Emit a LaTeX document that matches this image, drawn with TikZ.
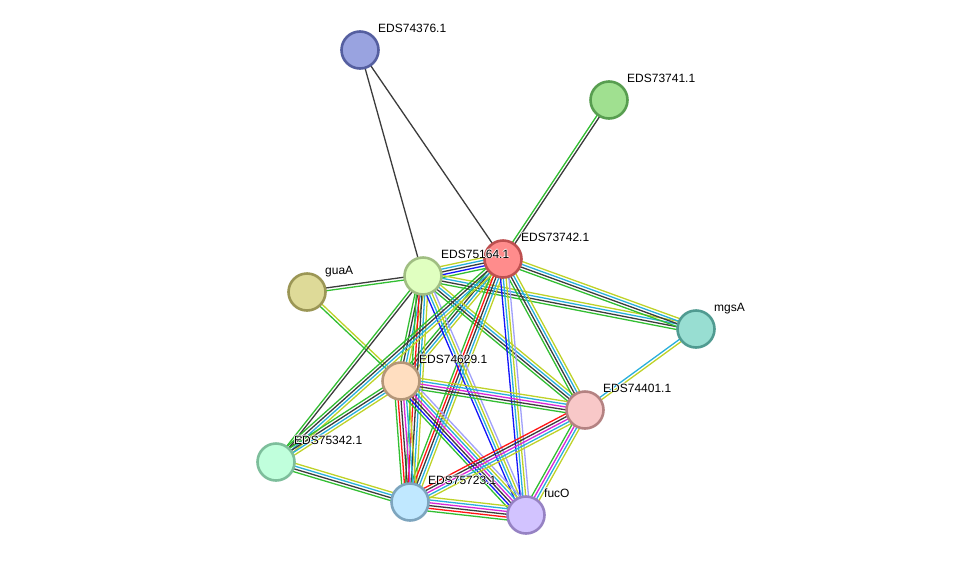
\documentclass[tikz,border=0pt]{standalone}
\usepackage{fontspec}
\setmainfont{Liberation Sans}
\usetikzlibrary{calc}
\usetikzlibrary{backgrounds}

% evidence colours
\definecolor{evgreen}{RGB}{50,190,50}
\definecolor{evred}{RGB}{255,20,20}
\definecolor{evblue}{RGB}{20,20,250}
\definecolor{evblack}{RGB}{60,60,60}
\definecolor{evmagenta}{RGB}{215,40,215}
\definecolor{evcyan}{RGB}{40,175,220}
\definecolor{evyellow}{RGB}{190,210,40}
\definecolor{evlavender}{RGB}{160,160,250}

\newcommand{\strlink}[3]{%
  \foreach \lc [count=\li] in {#3} {\xdef\linkn{\li}}%
  \foreach \lc [count=\li] in {#3} {%
    \pgfmathsetmacro\lo{(\li-(\linkn+1)/2)*2.8}%
    \draw[link,\lc] ($(#1)!\lo pt!90:(#2)$) -- ($(#2)!\lo pt!-90:(#1)$);
  }%
}
% white halo behind label text
\newcommand{\halotext}[1]{\leavevmode
  \rlap{\color{white}\kern0.9pt#1}%
  \rlap{\color{white}\kern-0.9pt#1}%
  \rlap{\color{white}\raisebox{0.9pt}{#1}}%
  \rlap{\color{white}\raisebox{-0.9pt}{#1}}%
  #1}

\begin{document}
\begin{tikzpicture}[x=1pt,y=-1pt,font=\fontsize{12}{14}\selectfont]
						\tikzstyle{prot} = [circle, minimum size=37pt, inner sep=0pt, line width=2.6pt]
						\tikzstyle{link} = [line width=1.3pt]
						\tikzstyle{lab} = [anchor=base west, inner sep=0pt]
						\useasboundingbox (0,0) rectangle (976,560);
						\node [prot,fill={rgb,255:red,153;green,163;blue,224},draw={rgb,255:red,85;green,95;blue,160}](p74376) at (360,50){};
						\node [prot,fill={rgb,255:red,160;green,224;blue,144},draw={rgb,255:red,88;green,158;blue,80}](p73741) at (609,100){};
						\node [prot,fill={rgb,255:red,255;green,140;blue,140},draw={rgb,255:red,190;green,80;blue,80}](p73742) at (503,259){};
						\node [prot,fill={rgb,255:red,224;green,255;blue,192},draw={rgb,255:red,160;green,190;blue,130}](p75164) at (423,276){};
						\node [prot,fill={rgb,255:red,222;green,218;blue,152},draw={rgb,255:red,155;green,150;blue,85}](guaA) at (307,292){};
						\node [prot,fill={rgb,255:red,152;green,222;blue,210},draw={rgb,255:red,80;green,155;blue,145}](mgsA) at (696,329){};
						\node [prot,fill={rgb,255:red,255;green,222;blue,192},draw={rgb,255:red,180;green,150;blue,120}](p74629) at (401,381){};
						\node [prot,fill={rgb,255:red,248;green,200;blue,200},draw={rgb,255:red,180;green,130;blue,130}](p74401) at (585,410){};
						\node [prot,fill={rgb,255:red,192;green,255;blue,220},draw={rgb,255:red,125;green,190;blue,155}](p75342) at (276,462){};
						\node [prot,fill={rgb,255:red,192;green,232;blue,255},draw={rgb,255:red,125;green,165;blue,190}](p75723) at (410,502){};
						\node [prot,fill={rgb,255:red,210;green,195;blue,255},draw={rgb,255:red,150;green,130;blue,195}](fucO) at (526,515){};
						\node [lab](l74376) at ($(p74376)+(18,-18)$){\halotext{EDS74376.1}};
						\node [lab](l73741) at ($(p73741)+(18,-18)$){\halotext{EDS73741.1}};
						\node [lab](l73742) at ($(p73742)+(18,-18)$){\halotext{EDS73742.1}};
						\node [lab](l75164) at ($(p75164)+(18,-18)$){\halotext{EDS75164.1}};
						\node [lab](lguaA) at ($(guaA)+(18,-18)$){\halotext{guaA}};
						\node [lab](lmgsA) at ($(mgsA)+(18,-18)$){\halotext{mgsA}};
						\node [lab](l74629) at ($(p74629)+(18,-18)$){\halotext{EDS74629.1}};
						\node [lab](l74401) at ($(p74401)+(18,-18)$){\halotext{EDS74401.1}};
						\node [lab](l75342) at ($(p75342)+(18,-18)$){\halotext{EDS75342.1}};
						\node [lab](l75723) at ($(p75723)+(18,-18)$){\halotext{EDS75723.1}};
						\node [lab](lfucO) at ($(fucO)+(18,-18)$){\halotext{fucO}};
						\begin{pgfonlayer}{background}
						\strlink{p74376}{p75164}{evblack}
						\strlink{p74376}{p73742}{evblack}
						\strlink{p73741}{p73742}{evgreen,evblack}
						\strlink{p75164}{p73742}{evgreen,evblue,evblack,evcyan,evyellow}
						\strlink{guaA}{p75164}{evgreen,evblack}
						\strlink{guaA}{p74629}{evgreen,evyellow}
						\strlink{p75164}{mgsA}{evgreen,evblack,evcyan,evyellow}
						\strlink{p73742}{mgsA}{evgreen,evblack,evcyan,evyellow}
						\strlink{mgsA}{p74401}{evcyan,evyellow}
						\strlink{p75164}{p74629}{evgreen,evblack,evcyan,evyellow}
						\strlink{p73742}{p74629}{evgreen,evblack,evcyan,evyellow}
						\strlink{p75164}{p74401}{evgreen,evblack,evcyan,evyellow}
						\strlink{p73742}{p74401}{evgreen,evblack,evcyan,evyellow}
						\strlink{p75164}{p75723}{evgreen,evred,evblack,evcyan,evyellow}
						\strlink{p73742}{p75723}{evgreen,evred,evblack,evcyan,evyellow}
						\strlink{p75164}{fucO}{evblue,evcyan,evyellow,evlavender}
						\strlink{p73742}{fucO}{evblue,evcyan,evyellow,evlavender}
						\strlink{p75164}{p75342}{evgreen,evblack}
						\strlink{p73742}{p75342}{evgreen,evblack,evcyan,evyellow}
						\strlink{p74629}{p74401}{evgreen,evblack,evmagenta,evcyan,evyellow}
						\strlink{p74629}{p75723}{evgreen,evred,evblack,evmagenta,evcyan,evyellow}
						\strlink{p74629}{fucO}{evgreen,evblue,evblack,evmagenta,evcyan,evyellow,evlavender}
						\strlink{p74629}{p75342}{evgreen,evblack,evcyan,evyellow}
						\strlink{p74401}{p75723}{evred,evblack,evmagenta,evcyan,evyellow}
						\strlink{p74401}{fucO}{evgreen,evmagenta,evcyan,evyellow}
						\strlink{p75342}{p75723}{evgreen,evblack,evcyan,evyellow}
						\strlink{p75723}{fucO}{evgreen,evred,evblack,evmagenta,evcyan,evyellow}
						\end{pgfonlayer}
					\end{tikzpicture}
\end{document}
